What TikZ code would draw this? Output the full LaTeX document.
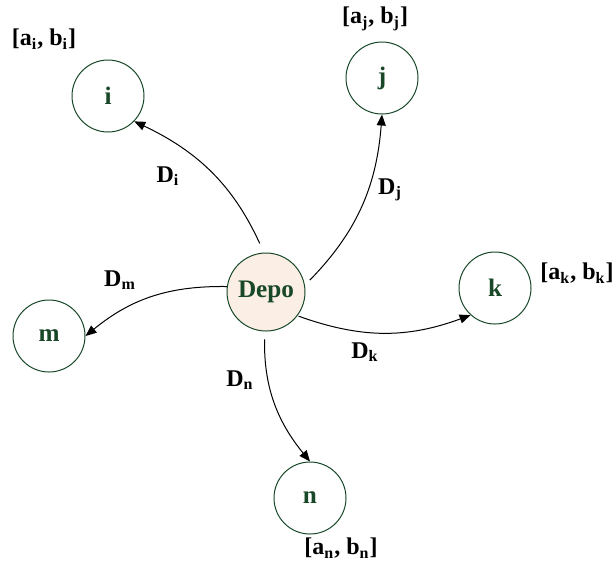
\documentclass[tikz,border=0pt]{standalone}
\usepackage{fontspec}
\setmainfont{Liberation Serif}
\usetikzlibrary{arrows.meta}
\definecolor{custgreen}{RGB}{24,72,40}
\definecolor{depofill}{RGB}{251,238,228}
\tikzset{
  cust/.style={circle,draw=custgreen,line width=.5pt,minimum size=36pt,inner sep=0pt,
               text=custgreen,font=\fontsize{12.6}{14}\selectfont\bfseries},
  depot/.style={cust,minimum size=39pt,fill=depofill},
  route/.style={-{Triangle[length=5.5pt,width=4.5pt]},draw=black,line width=.5pt},
  tw/.style={inner sep=0pt,font=\fontsize{12}{14}\selectfont\bfseries},
  dist/.style={tw},
}
\begin{document}
\begin{tikzpicture}[x=0.5pt,y=-0.5pt]
  \useasboundingbox (0,0) rectangle (614,569);
  % the depot and its customers
  \node[depot] (depo) at (266,292) {Depo};
  \foreach \n/\x/\y in {i/108/96,j/382/78,k/495/288,m/49/336,n/310/498}{
    \node[cust] (c\n) at (\x,\y) {\n};}
  % time windows
  \foreach \n/\x/\y in {i/44/39,j/375/19,k/577/273,n/341/548}{
    \node[tw] (tw\n) at (\x,\y) {[a\textsubscript{\n}, b\textsubscript{\n}]};}
  % routes out of the depot
  \foreach \n/\a/\b/\s in {i/93.5/-44/5pt,j/10/-90/3.5pt,m/172.5/0/0pt,
                           k/-37/228/0.5pt,n/-92.4/90/4pt}{
    \draw[route,shorten <=\s] (depo.\a) to[bend right=20] (c\n.\b);}
  \foreach \n/\x/\y in {i/168/176,j/390/190,m/120/280,k/365/352,n/240/380}{
    \node[dist] (d\n) at (\x,\y) {D\textsubscript{\n}};}
\end{tikzpicture}
\end{document}
